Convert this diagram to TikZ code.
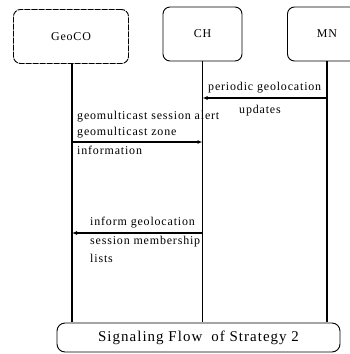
\documentclass[tikz,border=0pt]{standalone}
\usepackage{fontspec}
\setmainfont{Liberation Serif}
\newfontfamily\scanfont[LetterSpace=7]{Liberation Serif}
\usetikzlibrary{arrows.meta}
\begin{document}
\begin{tikzpicture}[x=1bp,y=-1bp,
  actor/.style={draw,rounded corners=7bp,line width=0.9bp,minimum width=#1,minimum height=54bp,inner sep=0pt,font=\scanfont\fontsize{12}{14}\selectfont},
  life/.style={line width=1.2bp},
  msg/.style={line width=1.1bp,-{Latex[length=5bp,width=4bp]}},
  lbl/.style={inner sep=0pt,anchor=west,font=\scanfont\fontsize{12}{14}\selectfont,align=left}]
\useasboundingbox (0,0) rectangle (350,354);
\node[actor=115bp,dashed,dash pattern=on 6bp off 1bp] (geo) at (71,36.5) {GeoCO};
\node[actor=79bp] (ch) at (202.5,34) {CH};
\node[actor=79bp] (mn) at (327,34) {MN};
\node[draw,rounded corners=8bp,line width=0.9bp,minimum width=283bp,minimum height=29bp,font=\scanfont\fontsize{15}{17}\selectfont] (cap) at (198.5,337.5) {Signaling Flow\; of Strategy 2};
\coordinate (g0) at (geo.south);
\coordinate (c0) at (ch.south);
\coordinate (m0) at (mn.south);
\coordinate (g1) at (72,322);
\coordinate (c1) at (202.5,322);
\coordinate (m1) at (327,322);
\draw[life] (72,63) -- (g1);
\draw[life] (c0) -- (c1);
\draw[life] (m0) -- (m1);
% message 1
\coordinate (m2) at (327,98);
\coordinate (c2) at (202.5,98);
\draw[msg] (m2) -- (c2);
\node[lbl] (t1) at (208,88) {periodic geolocation};
\node[lbl] (t2) at (239,111) {updates};
% message 2
\coordinate (g3) at (72,142);
\coordinate (c3) at (202.5,142);
\draw[msg] (g3) -- (c3);
\node[lbl] (t3) at (77,117) {geomulticast session alert};
\node[lbl] (t4) at (77,133) {geomulticast zone};
\node[lbl] (t5) at (77,150) {information};
% message 3
\coordinate (c4) at (202.5,233);
\coordinate (g4) at (72,233);
\draw[msg] (c4) -- (g4);
\node[lbl] (t6) at (90,223) {inform geolocation};
\node[lbl] (t7) at (90,242) {session membership};
\node[lbl] (t8) at (90,258) {lists};
\end{tikzpicture}
\end{document}
